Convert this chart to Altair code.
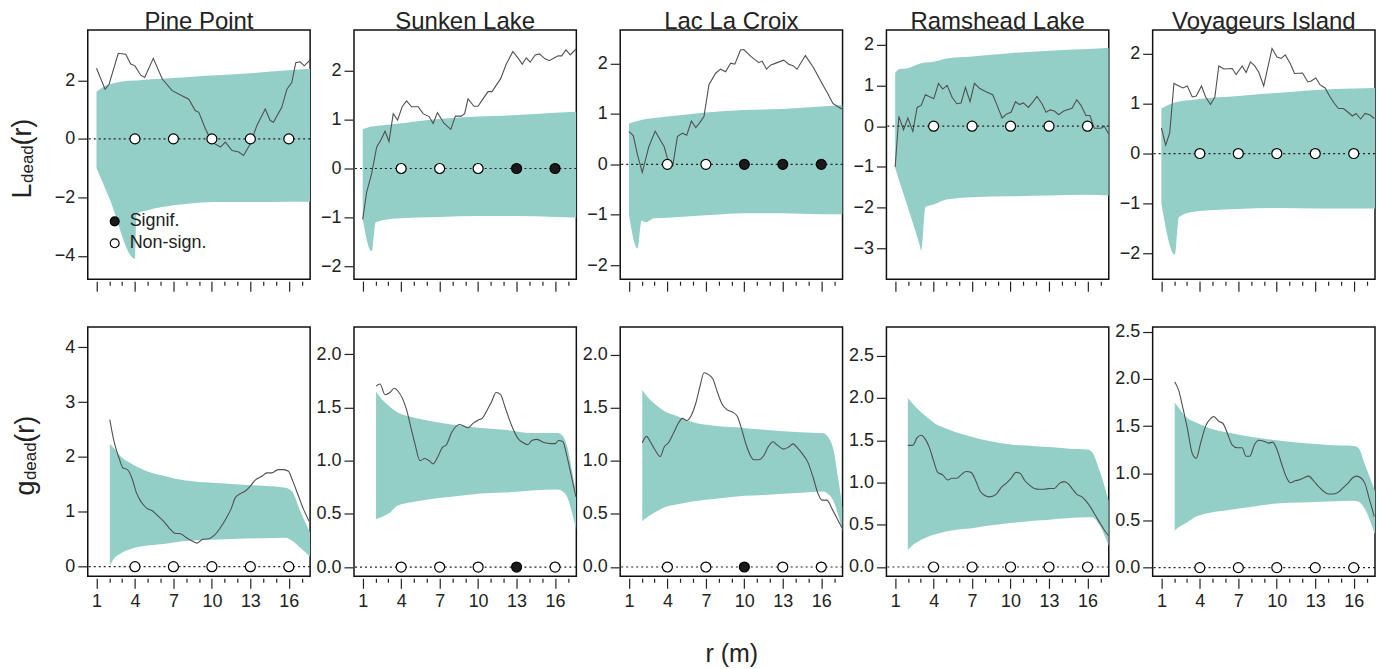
import altair as alt
import pandas as pd

FONT = "Liberation Sans"
TEAL = "#93cfc7"
LINE_COL = "#505050"
INK = "#222222"

SITES = ["Pine Point", "Sunken Lake", "Lac La Croix", "Ramshead Lake", "Voyageurs Island"]
R_MARKS = [4, 7, 10, 13, 16]
R_DOMAIN = [0.32, 17.66]
LAB_SIG = "Signif."
LAB_NS = "Non-sign."

# ---------------- L(r) row ----------------
L_PP_r = [1.0, 1.67, 1.98, 2.7, 3.28, 3.67, 4.0, 4.45, 4.76, 5.43, 6.13, 6.9, 7.55, 8.2, 8.7, 8.98, 9.5, 10.0, 10.66, 11.05, 11.57, 12.1, 12.47, 13.0, 13.5, 14.16, 14.55, 14.8, 15.45, 15.85, 16.23, 16.54, 16.88, 17.2, 17.66]
L_PP_v = [2.42, 1.70, 1.87, 2.93, 2.90, 2.56, 2.50, 2.18, 2.10, 2.76, 2.05, 1.65, 1.50, 1.36, 0.97, 0.91, 0.34, -0.11, -0.28, -0.11, -0.40, -0.45, -0.57, -0.17, 0.45, 1.02, 0.63, 0.57, 1.08, 1.70, 1.93, 2.61, 2.64, 2.50, 2.70]
L_PP_band_r = [1.0, 2.0, 4.0, 4.12, 5.0, 7.0, 8.5, 10.0, 13.0, 16.0, 17.66]
L_PP_hi = [1.61, 1.87, 2.0, 2.0, 2.03, 2.08, 2.13, 2.17, 2.25, 2.35, 2.40]
L_PP_lo = [-1.0, -2.03, -4.1, -2.56, -2.44, -2.27, -2.2, -2.16, -2.16, -2.15, -2.15]
L_PP_sig = [0, 0, 0, 0, 0]

L_SL_r = [1.0, 1.31, 1.70, 2.09, 2.42, 2.74, 3.05, 3.38, 3.72, 4.08, 4.42, 4.81, 5.33, 5.71, 6.18, 6.49, 6.83, 7.35, 7.87, 8.23, 8.69, 8.95, 9.21, 9.68, 9.99, 10.33, 10.77, 11.08, 11.75, 12.19, 12.71, 13.10, 13.44, 13.75, 14.06, 14.45, 14.78, 15.22, 15.56, 15.95, 16.26, 16.52, 16.85, 17.19, 17.63]
L_SL_v = [-1.04, -0.48, -0.10, 0.44, 0.58, 0.76, 0.55, 1.12, 0.99, 1.26, 1.38, 1.26, 1.26, 1.12, 1.06, 0.92, 1.14, 0.92, 0.80, 1.07, 1.07, 1.12, 1.42, 1.27, 1.27, 1.40, 1.57, 1.57, 1.83, 2.13, 2.39, 2.26, 2.13, 2.26, 2.17, 2.32, 2.34, 2.24, 2.20, 2.26, 2.30, 2.30, 2.42, 2.32, 2.44]
L_SL_band_r = [1.0, 1.70, 2.01, 3.5, 7.0, 10.0, 13.0, 16.0, 17.66]
L_SL_hi = [0.80, 0.86, 0.87, 0.91, 1.01, 1.06, 1.09, 1.14, 1.16]
L_SL_lo = [-1.04, -1.69, -1.10, -1.02, -0.99, -0.97, -0.97, -0.99, -1.0]
L_SL_sig = [0, 0, 0, 1, 1]

L_LC_r = [1.0, 1.34, 1.67, 2.04, 2.55, 3.05, 3.75, 4.0, 4.42, 4.78, 5.17, 5.51, 5.87, 6.21, 6.47, 6.85, 7.24, 7.76, 8.15, 8.54, 8.93, 9.26, 9.70, 9.96, 10.53, 11.13, 11.39, 11.73, 12.04, 12.55, 13.07, 13.46, 13.80, 14.11, 14.76, 15.40, 16.05, 16.49, 16.91, 17.27, 17.61]
L_LC_v = [0.65, 0.57, 0.19, -0.16, 0.35, 0.66, 0.35, 0.12, -0.03, 0.55, 0.62, 0.58, 0.86, 0.73, 0.81, 0.95, 1.58, 1.81, 1.89, 1.84, 2.01, 1.99, 2.27, 2.28, 2.14, 2.02, 2.05, 1.89, 1.97, 2.02, 2.07, 1.99, 1.96, 1.89, 2.16, 1.92, 1.61, 1.41, 1.21, 1.15, 1.10]
L_LC_band_r = [1.0, 1.67, 1.98, 2.32, 2.97, 4.0, 7.0, 10.0, 13.0, 16.0, 17.66]
L_LC_hi = [0.81, 0.86, 0.88, 0.90, 0.92, 0.95, 1.03, 1.08, 1.10, 1.15, 1.18]
L_LC_lo = [-1.0, -1.67, -1.12, -1.15, -1.07, -1.06, -1.01, -0.97, -0.97, -0.99, -0.99]
L_LC_sig = [0, 0, 1, 1, 1]

L_RL_r = [1.0, 1.29, 1.65, 1.99, 2.38, 2.71, 3.03, 3.36, 4.01, 4.38, 4.71, 5.05, 5.44, 5.81, 6.14, 6.48, 6.84, 7.18, 7.57, 8.04, 8.61, 8.95, 9.34, 9.70, 10.04, 10.38, 10.69, 11.0, 11.39, 11.73, 12.06, 12.45, 12.77, 13.08, 13.42, 13.75, 14.14, 14.79, 15.16, 15.49, 15.88, 16.19, 16.53, 17.05, 17.31, 17.65]
L_RL_v = [-1.0, 0.24, -0.09, 0.20, -0.13, 0.46, 0.51, 0.77, 0.67, 1.05, 0.91, 1.0, 0.71, 0.55, 0.57, 0.95, 0.60, 1.05, 0.93, 0.85, 0.77, 0.51, 0.20, 0.30, 0.34, 0.60, 0.53, 0.57, 0.46, 0.59, 0.73, 0.55, 0.34, 0.40, 0.37, 0.28, 0.37, 0.44, 0.65, 0.51, 0.26, 0.26, -0.05, -0.05, 0.0, -0.19]
L_RL_band_r = [1.0, 1.34, 2.0, 2.9, 3.03, 3.36, 4.0, 5.0, 7.0, 10.0, 13.0, 16.0, 17.66]
L_RL_hi = [1.31, 1.40, 1.42, 1.53, 1.54, 1.56, 1.58, 1.66, 1.71, 1.79, 1.85, 1.89, 1.92]
L_RL_lo = [-1.02, -1.36, -2.0, -2.9, -3.04, -1.98, -1.92, -1.8, -1.74, -1.72, -1.70, -1.68, -1.70]
L_RL_sig = [0, 0, 0, 0, 0]

L_VI_r = [1.0, 1.34, 1.65, 1.98, 2.37, 2.68, 3.02, 3.41, 3.72, 4.13, 4.45, 4.83, 5.17, 5.48, 5.87, 6.52, 6.83, 7.30, 7.61, 7.94, 8.28, 8.59, 8.98, 9.63, 10.02, 10.35, 10.66, 11.05, 11.39, 12.01, 12.42, 12.68, 13.05, 13.38, 13.77, 14.16, 14.50, 14.81, 15.20, 15.53, 15.90, 16.18, 16.54, 16.88, 17.27, 17.61]
L_VI_v = [0.51, 0.17, 0.41, 1.40, 1.35, 1.31, 1.35, 1.13, 1.15, 1.35, 1.13, 0.98, 1.13, 1.75, 1.69, 1.70, 1.58, 1.75, 1.62, 1.83, 1.75, 1.63, 1.35, 2.10, 1.93, 1.90, 1.97, 1.80, 1.60, 1.61, 1.43, 1.45, 1.51, 1.37, 1.31, 1.13, 1.0, 0.90, 0.90, 0.83, 0.75, 0.80, 0.69, 0.80, 0.77, 0.70]
L_VI_band_r = [1.0, 2.04, 2.37, 3.4, 4.0, 7.0, 10.0, 13.0, 16.0, 17.66]
L_VI_hi = [0.90, 1.02, 1.04, 1.07, 1.09, 1.15, 1.21, 1.27, 1.30, 1.31]
L_VI_lo = [-1.0, -2.02, -1.27, -1.17, -1.15, -1.11, -1.09, -1.10, -1.10, -1.10]
L_VI_sig = [0, 0, 0, 0, 0]

# ---------------- g(r) row ----------------
G_PP_r = [2.04, 2.37, 2.76, 3.07, 3.41, 3.80, 4.11, 4.52, 4.96, 5.35, 5.82, 6.26, 6.65, 7.11, 7.55, 8.07, 8.46, 8.85, 9.29, 9.76, 10.22, 10.66, 11.13, 11.49, 11.83, 12.22, 12.61, 13.0, 13.38, 13.90, 14.29, 14.68, 15.15, 15.59, 15.97, 16.31, 16.70, 17.14, 17.58]
G_PP_v = [2.68, 2.28, 1.98, 1.80, 1.77, 1.59, 1.35, 1.17, 1.06, 1.02, 0.92, 0.82, 0.71, 0.61, 0.60, 0.52, 0.47, 0.43, 0.50, 0.51, 0.58, 0.71, 0.89, 1.05, 1.26, 1.33, 1.38, 1.47, 1.58, 1.65, 1.71, 1.71, 1.77, 1.77, 1.74, 1.56, 1.32, 1.05, 0.83]
G_PP_band_r = [2.04, 2.37, 2.89, 3.8, 4.83, 6.39, 7.94, 10.0, 12.09, 14.16, 15.71, 16.23, 16.88, 17.66]
G_PP_hi = [2.24, 2.16, 2.01, 1.87, 1.75, 1.65, 1.57, 1.53, 1.50, 1.47, 1.44, 1.38, 1.02, 0.62]
G_PP_lo = [0.02, 0.15, 0.24, 0.33, 0.38, 0.42, 0.47, 0.49, 0.51, 0.52, 0.53, 0.48, 0.35, 0.18]
G_PP_sig = [0, 0, 0, 0, 0]

G_SL_r = [2.04, 2.35, 2.74, 3.12, 3.46, 3.77, 4.08, 4.42, 4.76, 5.07, 5.46, 5.84, 6.18, 6.49, 6.83, 7.19, 7.53, 7.92, 8.56, 9.21, 9.60, 9.99, 10.33, 10.64, 11.03, 11.41, 11.75, 12.11, 12.58, 13.10, 13.49, 13.88, 14.19, 14.60, 15.12, 15.69, 16.03, 16.26, 16.60, 16.93, 17.30, 17.63]
G_SL_v = [1.70, 1.72, 1.62, 1.64, 1.68, 1.65, 1.59, 1.48, 1.31, 1.16, 1.0, 1.02, 1.0, 0.97, 1.03, 1.12, 1.15, 1.26, 1.34, 1.31, 1.35, 1.38, 1.40, 1.46, 1.55, 1.64, 1.62, 1.50, 1.34, 1.21, 1.17, 1.15, 1.19, 1.20, 1.17, 1.16, 1.16, 1.19, 1.18, 1.04, 0.84, 0.66]
G_SL_band_r = [2.04, 2.48, 2.99, 3.77, 4.81, 6.36, 7.92, 10.0, 12.06, 14.13, 16.2, 16.6, 16.98, 17.3, 17.66]
G_SL_hi = [1.65, 1.58, 1.52, 1.45, 1.41, 1.37, 1.34, 1.31, 1.29, 1.26, 1.26, 1.23, 1.12, 0.92, 0.68]
G_SL_lo = [0.45, 0.47, 0.50, 0.58, 0.61, 0.64, 0.66, 0.69, 0.70, 0.72, 0.73, 0.71, 0.65, 0.52, 0.35]
G_SL_sig = [0, 0, 0, 1, 0]

G_LC_r = [2.04, 2.37, 2.71, 3.10, 3.44, 3.75, 4.08, 4.47, 4.83, 5.17, 5.51, 5.87, 6.21, 6.54, 6.85, 7.24, 7.55, 7.89, 8.28, 8.67, 9.06, 9.45, 9.76, 10.09, 10.43, 10.74, 11.13, 11.52, 11.85, 12.24, 12.55, 13.07, 13.46, 13.80, 14.16, 14.50, 14.94, 15.35, 15.72, 16.05, 16.44, 16.83, 17.22, 17.61]
G_LC_v = [1.17, 1.23, 1.17, 1.09, 1.04, 1.13, 1.17, 1.26, 1.35, 1.40, 1.38, 1.43, 1.54, 1.70, 1.83, 1.81, 1.77, 1.65, 1.53, 1.48, 1.46, 1.42, 1.31, 1.17, 1.06, 1.01, 1.01, 1.05, 1.13, 1.18, 1.15, 1.11, 1.13, 1.16, 1.12, 1.07, 0.99, 0.85, 0.70, 0.63, 0.63, 0.55, 0.46, 0.37]
G_LC_band_r = [2.04, 2.45, 2.97, 3.75, 4.78, 6.08, 7.63, 10.0, 11.78, 14.37, 16.18, 16.5, 16.96, 17.3, 17.66]
G_LC_hi = [1.67, 1.60, 1.54, 1.47, 1.42, 1.36, 1.33, 1.31, 1.29, 1.27, 1.26, 1.23, 1.10, 0.85, 0.55]
G_LC_lo = [0.43, 0.47, 0.51, 0.56, 0.59, 0.62, 0.64, 0.67, 0.68, 0.70, 0.71, 0.69, 0.62, 0.50, 0.33]
G_LC_sig = [0, 0, 1, 0, 0]

G_RL_r = [1.99, 2.38, 2.71, 3.03, 3.36, 3.68, 4.01, 4.32, 4.71, 5.10, 5.44, 5.81, 6.14, 6.53, 6.92, 7.26, 7.62, 7.96, 8.35, 8.87, 9.26, 9.65, 10.04, 10.43, 10.74, 11.08, 11.47, 11.86, 12.25, 12.64, 13.03, 13.42, 13.81, 14.19, 14.53, 14.84, 15.16, 15.57, 15.94, 16.27, 16.66, 17.05, 17.39, 17.65]
G_RL_v = [1.44, 1.44, 1.53, 1.56, 1.51, 1.41, 1.25, 1.12, 1.09, 1.03, 1.05, 1.05, 1.09, 1.13, 1.12, 1.03, 0.90, 0.85, 0.83, 0.86, 0.94, 0.99, 1.05, 1.12, 1.11, 1.03, 0.97, 0.93, 0.92, 0.92, 0.93, 0.93, 0.99, 1.01, 0.98, 0.92, 0.86, 0.83, 0.77, 0.70, 0.60, 0.50, 0.42, 0.37]
G_RL_band_r = [1.99, 2.38, 2.9, 3.42, 4.19, 4.97, 6.27, 7.0, 8.35, 10.0, 11.99, 13.0, 14.58, 16.0, 16.4, 16.92, 17.66]
G_RL_hi = [2.0, 1.93, 1.85, 1.78, 1.69, 1.64, 1.57, 1.54, 1.49, 1.45, 1.43, 1.42, 1.40, 1.39, 1.35, 1.15, 0.78]
G_RL_lo = [0.20, 0.26, 0.31, 0.35, 0.39, 0.42, 0.45, 0.46, 0.49, 0.52, 0.55, 0.56, 0.58, 0.59, 0.59, 0.50, 0.25]
G_RL_sig = [0, 0, 0, 0, 0]

G_VI_r = [2.04, 2.37, 2.68, 3.02, 3.41, 3.72, 4.06, 4.45, 4.83, 5.09, 5.48, 5.79, 6.13, 6.52, 6.91, 7.30, 7.61, 7.89, 8.25, 8.59, 8.98, 9.37, 9.68, 10.02, 10.40, 10.71, 11.05, 11.44, 11.75, 12.09, 12.48, 12.87, 13.25, 13.64, 14.03, 14.42, 14.81, 15.20, 15.59, 15.90, 16.23, 16.57, 16.88, 17.19, 17.61]
G_VI_v = [1.97, 1.87, 1.69, 1.48, 1.21, 1.16, 1.32, 1.50, 1.58, 1.60, 1.55, 1.53, 1.43, 1.30, 1.27, 1.27, 1.18, 1.18, 1.30, 1.35, 1.34, 1.32, 1.33, 1.25, 1.09, 0.97, 0.90, 0.92, 0.93, 0.95, 0.97, 0.92, 0.86, 0.81, 0.78, 0.78, 0.80, 0.85, 0.90, 0.95, 0.97, 0.95, 0.89, 0.74, 0.54]
G_VI_band_r = [2.04, 2.37, 2.89, 3.67, 4.70, 6.26, 7.81, 10.0, 11.96, 14.03, 16.0, 16.36, 16.88, 17.66]
G_VI_hi = [1.75, 1.69, 1.60, 1.54, 1.48, 1.43, 1.39, 1.35, 1.32, 1.30, 1.29, 1.27, 1.09, 0.81]
G_VI_lo = [0.39, 0.43, 0.47, 0.54, 0.58, 0.61, 0.64, 0.68, 0.69, 0.70, 0.71, 0.70, 0.62, 0.35]
G_VI_sig = [0, 0, 0, 0, 0]

# y-axis domains / ticks
L_YDOM = [[-4.8, 3.73], [-2.26, 2.83], [-2.28, 2.67], [-3.75, 2.36], [-2.51, 2.47]]
L_YTICKS = [[-4, -2, 0, 2], [-2, -1, 0, 1, 2], [-2, -1, 0, 1, 2], [-3, -2, -1, 0, 1, 2], [-2, -1, 0, 1, 2]]
G_YDOM = [[-0.175, 4.37], [-0.087, 2.256], [-0.0875, 2.26], [-0.11, 2.84], [-0.092, 2.55]]
G_YTICKS = [[0, 1, 2, 3, 4], [0, 0.5, 1.0, 1.5, 2.0], [0, 0.5, 1.0, 1.5, 2.0], [0, 0.5, 1.0, 1.5, 2.0, 2.5], [0, 0.5, 1.0, 1.5, 2.0, 2.5]]
G_YFMT = ["d", ".1f", ".1f", ".1f", ".1f"]

L_ROW = [
    (L_PP_r, L_PP_v, L_PP_band_r, L_PP_lo, L_PP_hi, L_PP_sig),
    (L_SL_r, L_SL_v, L_SL_band_r, L_SL_lo, L_SL_hi, L_SL_sig),
    (L_LC_r, L_LC_v, L_LC_band_r, L_LC_lo, L_LC_hi, L_LC_sig),
    (L_RL_r, L_RL_v, L_RL_band_r, L_RL_lo, L_RL_hi, L_RL_sig),
    (L_VI_r, L_VI_v, L_VI_band_r, L_VI_lo, L_VI_hi, L_VI_sig),
]
G_ROW = [
    (G_PP_r, G_PP_v, G_PP_band_r, G_PP_lo, G_PP_hi, G_PP_sig),
    (G_SL_r, G_SL_v, G_SL_band_r, G_SL_lo, G_SL_hi, G_SL_sig),
    (G_LC_r, G_LC_v, G_LC_band_r, G_LC_lo, G_LC_hi, G_LC_sig),
    (G_RL_r, G_RL_v, G_RL_band_r, G_RL_lo, G_RL_hi, G_RL_sig),
    (G_VI_r, G_VI_v, G_VI_band_r, G_VI_lo, G_VI_hi, G_VI_sig),
]

PANEL_W = 223
PANEL_H = 250


def ytitle_layers(letter, base_x, start_y):
    parts = [(letter, 27, 0, 15.5), ("dead", 17, 2, 37.5), ("(r)", 27, 0, 0)]
    layers = []
    y = start_y
    for txt, size, shift, w in parts:
        df = pd.DataFrame({"t": [txt]})
        layers.append(
            alt.Chart(df).mark_text(angle=270, align="left", baseline="alphabetic",
                                    fontSize=size, font=FONT, color=INK)
            .encode(x=alt.value(base_x + shift), y=alt.value(y), text="t:N")
        )
        y -= w
    return layers


def panel(row, col, data, ydom, yticks, yfmt):
    line_r, line_v, band_r, band_lo, band_hi, sig = data
    top = row == 0
    bdf = pd.DataFrame({"r": band_r, "lo": band_lo, "hi": band_hi})
    ldf = pd.DataFrame({"r": line_r, "v": line_v})
    pdf = pd.DataFrame({"r": R_MARKS, "v": [0] * 5,
                        "s": [LAB_SIG if s else LAB_NS for s in sig]})
    zdf = pd.DataFrame({"v": [0]})

    xaxis_kw = dict(values=list(range(1, 18)), offset=2, domain=False, grid=False,
                    tickColor=INK, tickWidth=1.2,
                    tickSize={"condition": {"test": "datum.value % 3 == 1", "value": 10}, "value": 4},
                    labelFont=FONT, labelFontSize=18, labelColor=INK, labelPadding=4,
                    labelExpr="datum.value % 3 == 1 ? datum.label : ''")
    if top:
        xaxis_kw["labels"] = False
    if (not top) and col == 2:
        xaxis_kw.update(title="r (m)", titleFont=FONT, titleFontSize=25,
                        titleFontWeight="normal", titleColor=INK, titlePadding=31)
    else:
        xaxis_kw["title"] = None
    X = alt.X("r:Q", scale=alt.Scale(domain=R_DOMAIN, nice=False, zero=False),
              axis=alt.Axis(**xaxis_kw))
    yaxis = alt.Axis(values=yticks, format=yfmt, offset=1, domain=False, grid=False,
                     tickColor=INK, tickWidth=1.2, tickSize=9, title=None,
                     labelFont=FONT, labelFontSize=18, labelColor=INK, labelPadding=3)
    yscale = alt.Scale(domain=ydom, nice=False, zero=False)

    band = alt.Chart(bdf).mark_area(color=TEAL, interpolate="monotone", clip=True).encode(
        x=X, y=alt.Y("lo:Q", scale=yscale, axis=yaxis), y2="hi:Q")
    line = alt.Chart(ldf).mark_line(color=LINE_COL, strokeWidth=1.1, clip=True,
                                    interpolate="linear" if top else "monotone").encode(
        x=X, y=alt.Y("v:Q", scale=yscale, axis=yaxis))
    zero = alt.Chart(zdf).mark_rule(color=INK, strokeDash=[2, 3], strokeWidth=1.2).encode(
        y=alt.Y("v:Q", scale=yscale, axis=yaxis))
    if top and col == 0:
        leg = alt.Legend(orient="none", legendX=18, legendY=183, title=None,
                         labelFont=FONT, labelFontSize=18, labelColor=INK,
                         symbolType="circle", symbolSize=80, symbolStrokeColor="black",
                         symbolStrokeWidth=1.2, rowPadding=4, padding=0, labelOffset=6)
    else:
        leg = None
    fill = alt.Fill("s:N", scale=alt.Scale(domain=[LAB_SIG, LAB_NS], range=["#1a1a1a", "white"]),
                    legend=leg)
    pts = alt.Chart(pdf).mark_point(filled=True, size=100, stroke="black", strokeWidth=1.2,
                                    opacity=1).encode(
        x=X, y=alt.Y("v:Q", scale=yscale, axis=yaxis), fill=fill)

    layers = [band, line, zero, pts]
    if col == 0:
        layers += ytitle_layers("L" if top else "g", -57 if top else -54, 169)
    ch = alt.layer(*layers).properties(width=PANEL_W, height=PANEL_H)
    if top:
        ch = ch.properties(title=alt.Title(SITES[col], font=FONT, fontSize=24, fontWeight="normal",
                                           color=INK, anchor="middle", frame="group", offset=-4))
    return ch


panels = []
for c in range(5):
    panels.append(panel(0, c, L_ROW[c], L_YDOM[c], L_YTICKS[c], "d"))
for c in range(5):
    panels.append(panel(1, c, G_ROW[c], G_YDOM[c], G_YTICKS[c], G_YFMT[c]))

chart = alt.concat(*panels, columns=5, spacing={"row": 48, "column": 44}, bounds="flush").properties(
    padding={"left": 0, "top": 0, "right": 0, "bottom": 0}
).configure(font=FONT).configure_view(stroke="#111111", strokeWidth=1.5)

chart.save("out.html", embed_options={"renderer": "svg", "actions": False})
